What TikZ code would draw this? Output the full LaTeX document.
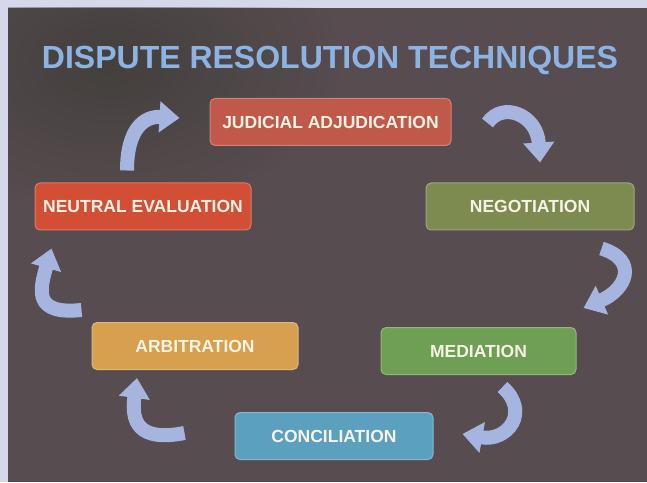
\documentclass[tikz,border=0pt]{standalone}
\usepackage{fontspec}
\setmainfont{Liberation Sans}
\usetikzlibrary{arrows.meta, fadings}

\definecolor{frame}{HTML}{D5D7EA}
\definecolor{slide}{HTML}{574C50}
\definecolor{grunge}{HTML}{3E3D38}
\definecolor{titleblue}{HTML}{8DB3E2}
\definecolor{arrowblue}{HTML}{A6B5E0}
\definecolor{textcream}{HTML}{F6F3E4}
\definecolor{judred}{HTML}{C0594A}
\definecolor{negolive}{HTML}{7D8B50}
\definecolor{neured}{HTML}{D24F36}
\definecolor{arbtan}{HTML}{D6A04F}
\definecolor{medgreen}{HTML}{6F9F55}
\definecolor{conblue}{HTML}{5CA0C0}

\tikzfading[name=grungefade, inner color=transparent!0, outer color=transparent!100]

\tikzset{
  box/.style={rectangle, rounded corners=5pt, fill=#1, draw=#1!75!white,
    line width=1pt, minimum height=47pt, inner sep=0pt,
    text=textcream, font=\fontsize{17.5}{20}\selectfont\bfseries},
  flow/.style={arrowblue, line width=14pt,
    -{Triangle[width=30pt,length=20pt]}}
}

\begin{document}
\begin{tikzpicture}[x=1pt, y=1pt]
    \useasboundingbox (0,0) rectangle (647,482);
    \fill[frame] (0,0) rectangle (647,482);
    \fill[slide] (8,0) rectangle (647,474);
    \begin{scope}
      \clip (8,0) rectangle (647,474);
      \fill[grunge, path fading=grungefade, opacity=0.8] (110,420) ellipse (230pt and 150pt);
    \end{scope}

    % Title
    \node[text=titleblue, font=\fontsize{32}{36}\selectfont\bfseries] (title) at (330,422) {DISPUTE RESOLUTION TECHNIQUES};

    % Draw nodes
    \node[box=judred, minimum width=241pt] (jud) at (330.5,360) {JUDICIAL ADJUDICATION};
    \node[box=negolive, minimum width=208pt] (neg) at (530,275.5) {NEGOTIATION};
    \node[box=neured, minimum width=216pt] (neu) at (143,275.5) {NEUTRAL EVALUATION};
    \node[box=arbtan, minimum width=206pt] (arb) at (195,136) {ARBITRATION};
    \node[box=medgreen, minimum width=195pt] (med) at (478.5,131) {MEDIATION};
    \node[box=conblue, minimum width=198pt] (con) at (334,46) {CONCILIATION};

    % Draw connections
    \draw[flow] ([xshift=36pt,yshift=-1pt]jud.east) .. controls +(15,22) and +(-3,48) .. ([xshift=10pt,yshift=20pt]neg.north);
    \draw[flow] ([xshift=-33pt,yshift=-18pt]neg.south east) .. controls +(38,-12) and +(42,18) .. ([xshift=7pt,yshift=19pt]med.north east);
    \draw[flow] ([xshift=24pt,yshift=-12pt]med.south) .. controls +(28,-25) and +(45,-8) .. ([xshift=29pt,yshift=2pt]con.east);
    \draw[flow] ([xshift=-50pt,yshift=3pt]con.west) .. controls +(-46,-9) and +(-6,-44) .. ([xshift=-58pt,yshift=-8pt]arb.south);
    \draw[flow] ([xshift=-10pt,yshift=12pt]arb.north west) .. controls +(-48,-5) and +(-12,-42) .. ([xshift=17pt,yshift=-18pt]neu.south west);
    \draw[flow] ([xshift=-16pt,yshift=12pt]neu.north) .. controls +(0,42) and +(-35,2) .. ([xshift=-30pt,yshift=4pt]jud.west);
\end{tikzpicture}
\end{document}
